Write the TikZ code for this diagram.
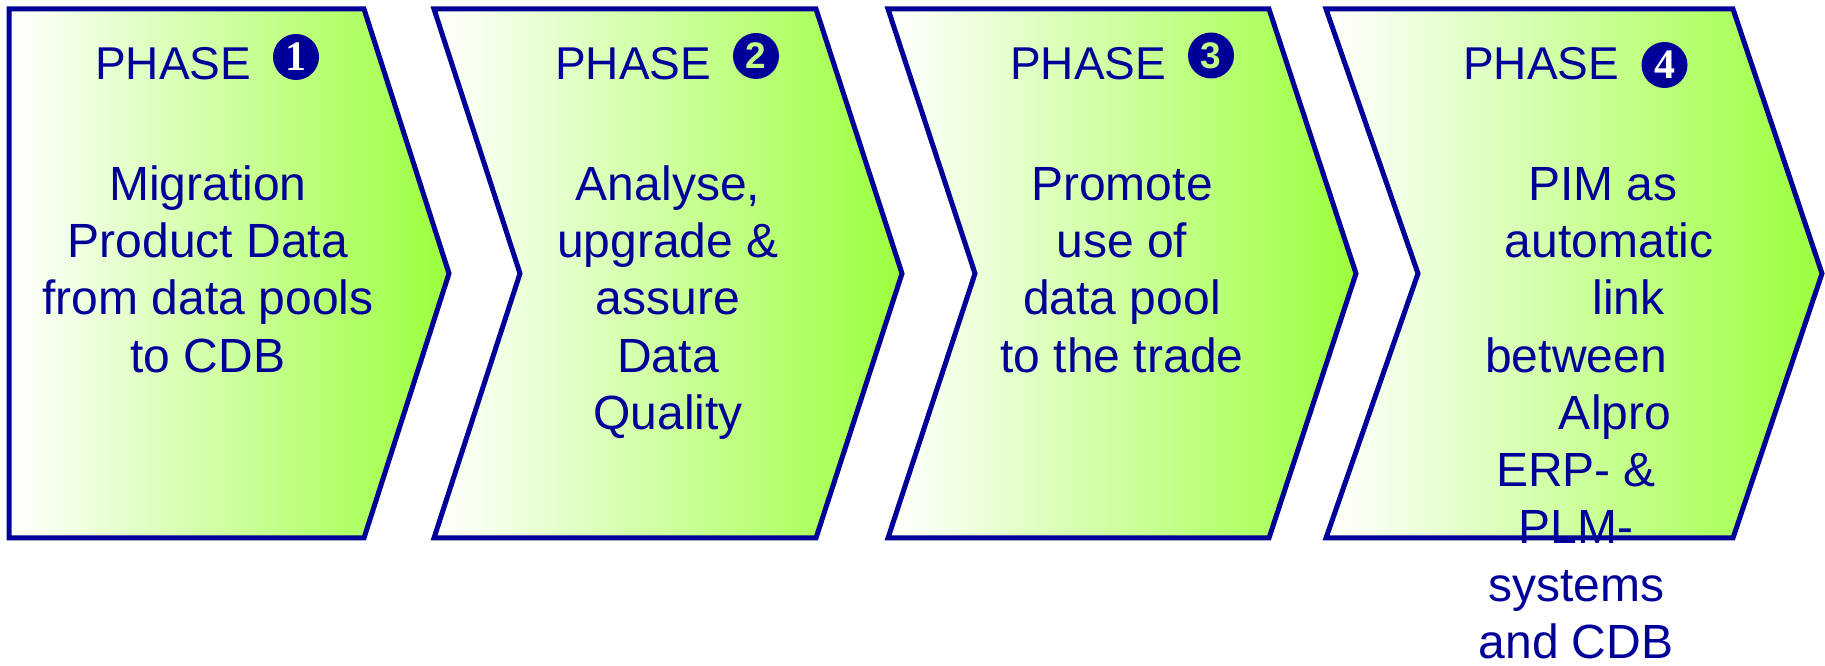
\documentclass[tikz,border=0pt]{standalone}
\usepackage{fontspec}
\setmainfont{Liberation Sans}
\newfontfamily\digserif{Liberation Serif}
\definecolor{navy}{RGB}{0,0,153}
\definecolor{phgreen}{RGB}{155,255,60}
\tikzset{
  phshape/.style={draw=navy, line width=5pt, left color=white, middle color=phgreen!25!white, right color=phgreen},
  phhead/.style={text=navy, font=\fontsize{46}{55}\selectfont, inner sep=0pt, anchor=base west},
  phnum/.style={circle, fill=navy, inner sep=0pt, minimum size=46pt},
  numserif/.style={text=white, font=\digserif\bfseries\fontsize{42}{44}\selectfont},
  numsans/.style={font=\bfseries\fontsize{37}{40}\selectfont},
  phbody/.style={text=navy, font=\fontsize{48}{57.3}\selectfont, align=center, inner sep=0pt, anchor=north},
}
\begin{document}
\begin{tikzpicture}[x=1pt,y=1pt]
\useasboundingbox (0,0) rectangle (1825,666);
% chevron shapes
\path[phshape] (9,657) -- (364,657) -- (449,392.5) -- (364,128) -- (9,128) -- cycle;
\path[phshape] (434,657) -- (816,657) -- (902,392.5) -- (816,128) -- (434,128) -- (520,392.5) -- cycle;
\path[phshape] (888,657) -- (1269,657) -- (1356,392.5) -- (1269,128) -- (888,128) -- (975,392.5) -- cycle;
\path[phshape] (1326,657) -- (1733,657) -- (1822,392.5) -- (1733,128) -- (1326,128) -- (1418,392.5) -- cycle;
% headers
\node[phhead] (h1) at (95,586) {PHASE};
\node[phhead] (h2) at (555,586) {PHASE};
\node[phhead] (h3) at (1010,586) {PHASE};
\node[phhead] (h4) at (1463,586) {PHASE};
\node[phnum, numserif] (n1) at (296,609) {1};
\node[phnum, numsans, text=phgreen!62!white] (n2) at (756,610) {2};
\node[phnum, numsans, text=phgreen!62!white] (n3) at (1211,610.5) {3};
\node[phnum, numserif] (n4) at (1664.5,601) {4};
% bodies
\node[phbody] (b1) at (208,506) {\rule{0pt}{40pt}Migration\\Product Data\\from data pools\\to CDB};
\node[phbody] (b2) at (668,506) {\rule{0pt}{40pt}Analyse,\\upgrade \&\\assure\\Data\\Quality};
\node[phbody] (b3) at (1122,506) {\rule{0pt}{40pt}Promote\\use of\\data pool\\to the trade};
\node[phbody] (b4) at (1576,506) {\rule{0pt}{40pt}\hspace*{54pt}PIM as\\\hspace*{66pt}automatic\\\hspace*{105pt}link\\between\\\hspace*{78pt}Alpro\\ERP- \&\\PLM-\\systems\\and CDB};
\end{tikzpicture}
\end{document}
